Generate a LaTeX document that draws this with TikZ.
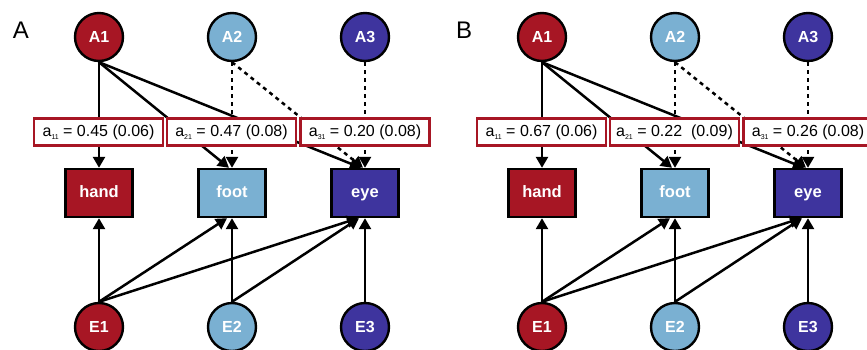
\documentclass[tikz,border=0pt]{standalone}
\usepackage{fontspec}
\setmainfont{Liberation Sans}
\usetikzlibrary{arrows.meta}
\definecolor{cred}{RGB}{167,22,36}
\definecolor{clblue}{RGB}{122,176,210}
\definecolor{cdblue}{RGB}{62,52,158}
\newcommand\mysub[1]{\raisebox{-3pt}{\fontsize{7}{7}\selectfont #1}}
\newcommand\mypanel[6]{%
\begin{scope}[xshift=#2]
\node[font=\fontsize{24}{24}\selectfont] (#1L) at (21,30) {#3};
\node[circ,fill=cred] (#1A1) at (99,37) {A1};
\node[circ,fill=clblue] (#1A2) at (232,37) {A2};
\node[circ,fill=cdblue] (#1A3) at (365,37) {A3};
\node[obs,fill=cred] (#1h) at (99,193) {hand};
\node[obs,fill=clblue] (#1f) at (232,193) {foot};
\node[obs,fill=cdblue] (#1e) at (365,193) {eye};
\node[circ,fill=cred] (#1E1) at (99,327) {E1};
\node[circ,fill=clblue] (#1E2) at (232,327) {E2};
\node[circ,fill=cdblue] (#1E3) at (365,327) {E3};
\draw[con] (#1A1.south) -- (#1h.north);
\draw[con] (#1A1.south) -- ([xshift=-3pt]#1f.north);
\draw[con] (#1A1.south) -- ([xshift=-4pt]#1e.north);
\draw[dcon] (#1A2.south) -- (#1f.north);
\draw[dcon] (#1A2.south) -- ([xshift=-2pt]#1e.north);
\draw[dcon] (#1A3.south) -- (#1e.north);
\draw[con] (#1E1.north) -- (#1h.south);
\draw[con] (#1E1.north) -- ([xshift=-5pt]#1f.south);
\draw[con] (#1E1.north) -- ([xshift=-7pt]#1e.south);
\draw[con] (#1E2.north) -- (#1f.south);
\draw[con] (#1E2.north) -- ([xshift=-6pt]#1e.south);
\draw[con] (#1E3.north) -- (#1e.south);
\node[lab] (#1l1) at (98.5,132) {a\mysub{11} = #4};
\node[lab] (#1l2) at (231.5,132) {a\mysub{21} = #5};
\node[lab] (#1l3) at (365,132) {a\mysub{31} = #6};
\end{scope}}
\begin{document}
\begin{tikzpicture}[x=1pt,y=-1pt,
  circ/.style={circle,draw=black,line width=2.4pt,minimum size=48pt,inner sep=0pt,text=white,text height=11pt,text depth=0pt,font=\fontsize{16}{16}\selectfont\bfseries},
  obs/.style={rectangle,draw=black,line width=2.4pt,minimum width=67pt,minimum height=48pt,inner sep=0pt,text=white,text height=11pt,text depth=3pt,font=\fontsize{16.5}{16.5}\selectfont\bfseries},
  lab/.style={rectangle,draw=cred,fill=white,line width=2.2pt,minimum width=129pt,minimum height=27pt,inner sep=0pt,font=\fontsize{16}{16}\selectfont},
  con/.style={line width=2.5pt,-{Triangle[length=11pt,width=12pt]}},
  dcon/.style={con,dash pattern=on 4pt off 4pt}]
\path[use as bounding box] (0,0) rectangle (867,349);
\clip (0,0) rectangle (867,349);
\mypanel{p}{0pt}{A}{0.45 (0.06)}{0.47 (0.08)}{0.20 (0.08)}
\mypanel{q}{443pt}{B}{0.67 (0.06)}{0.22~ (0.09)}{0.26 (0.08)}
\end{tikzpicture}
\end{document}
